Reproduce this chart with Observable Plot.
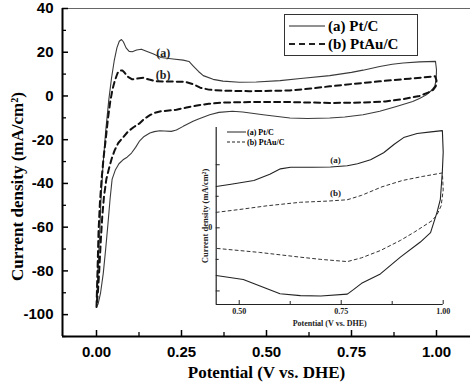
<!DOCTYPE html>
<html><head><meta charset="utf-8">
<script src="https://cdn.jsdelivr.net/npm/d3@7"></script>
<script src="https://cdn.jsdelivr.net/npm/@observablehq/plot@0.6"></script>
<style>
body{margin:0;background:#fff;}
#wrap{position:relative;width:474px;height:386px;overflow:hidden;}
#wrap > svg{position:absolute;}
.leg{position:absolute;box-sizing:border-box;color:#000;}
.leg .row{display:flex;align-items:center;white-space:nowrap;}
#wrap .leg svg{position:static;display:block;}
</style></head><body><div id="wrap"></div>
<script>
// ---- main chart data (Potential V vs DHE, current density mA/cm2) ----
const seriesNames = ["(a) Pt/C", "(b) PtAu/C"];
const curveTags = ["(a)", "(b)"];

const ptcX = [0,0.004,0.009,0.013,0.019,0.027,0.036,0.044,0.052,0.06,0.067,0.0735,0.079,0.087,0.096,0.105,0.118,0.132,0.145,0.166,0.19,0.225,0.255,0.272,0.284,0.30,0.314,0.343,0.372,0.42,0.47,0.54,0.60,0.686,0.75,0.784,0.833,0.87,0.902,0.95,0.997,
  1.0,0.999,0.995,0.985,0.97,0.95,0.93,0.882,0.833,0.784,0.73,0.686,0.62,0.569,0.49,0.43,0.40,0.36,0.333,0.30,0.284,0.255,0.235,0.22,0.20,0.186,0.17,0.157,0.14,0.127,0.115,0.103,0.09,0.078,0.066,0.055,0.046,0.04,0.034,0.027,0.02,0.012,0.005,0];
const ptcY = [-96.5,-80,-64,-48,-32,-16,-2,8,16,22,25,25.8,24.8,22,20.4,20.2,21,21.4,20.6,19.3,17.6,16.9,16.4,15.8,13.8,11.2,9.3,7.6,6.8,6.3,6.4,7.0,8.0,9.3,10.8,11.8,13.5,14.5,15.1,15.6,15.8,
  12,7.5,4.5,2.5,0.5,-1.2,-2.5,-4.8,-7.0,-8.6,-9.6,-10.1,-10.3,-10.1,-8.6,-7.3,-7.0,-7.5,-8.6,-10.5,-11.6,-13.9,-15.6,-16.2,-16.0,-15.9,-16.3,-16.9,-18.5,-20.5,-23.5,-26.1,-28,-29.2,-31,-34,-38,-47,-58,-70,-81,-90,-95,-96.5];

const ptauX = [0,0.003,0.006,0.01,0.015,0.021,0.027,0.034,0.04,0.047,0.054,0.062,0.069,0.076,0.083,0.092,0.105,0.12,0.138,0.155,0.176,0.216,0.26,0.285,0.305,0.33,0.372,0.45,0.569,0.63,0.686,0.76,0.833,0.921,0.996,
  1.0,0.998,0.99,0.975,0.95,0.9,0.85,0.78,0.686,0.569,0.45,0.372,0.33,0.30,0.265,0.235,0.19,0.17,0.157,0.14,0.127,0.11,0.093,0.075,0.064,0.053,0.045,0.037,0.029,0.022,0.017,0.013,0.008,0.004,0];
const ptauY = [-96.5,-80,-62,-49,-38,-28,-20,-10,-3,3,7,10.5,11.6,11.7,10.6,8.8,7.6,8.0,8.3,7.5,6.7,6.6,6.5,5.3,3.8,2.9,2.4,2.2,2.5,3.4,4.4,5.6,6.7,7.9,9.0,
  7,4.5,2.8,1.5,0,-1.5,-2.5,-3.0,-3.2,-2.8,-2.8,-3.0,-3.6,-4.2,-5.3,-6.3,-7.0,-7.8,-8.8,-10.5,-12.5,-14.2,-16.2,-19.5,-21.5,-25,-28.5,-33,-38,-46,-55,-65,-80,-90,-96.5];

const xTicks = [0, 0.25, 0.5, 0.75, 1.0];
const xMinorTicks = [0.125, 0.375, 0.625, 0.875];
const yTicks = [-100, -80, -60, -40, -20, 0, 20, 40];
const yMinorTicks = [-110, -90, -70, -50, -30, -10, 10, 30];

// ---- inset data (zoom 0.44–1.00 V, arbitrary current units) ----
const insetPtcX = [0.4436,0.48,0.536,0.575,0.601,0.626,0.68,0.724,0.765,0.79,0.822,0.854,0.88,0.903,0.936,0.97,0.998,
  1.0,0.998,0.993,0.985,0.969,0.944,0.895,0.846,0.80,0.78,0.765,0.70,0.65,0.60,0.57,0.51,0.4436];
const insetPtcY = [13.1,13.8,15.0,17.0,18.7,19.2,19.2,19.3,19.7,20.3,21.6,23.8,26.5,28.6,29.9,30.4,30.8,
  24,18,9,5,-1.5,-4.5,-9.3,-14.6,-17.6,-19.6,-21.0,-21.6,-21.5,-20.9,-19.4,-16.4,-15.1];
const insetPtauX = [0.4436,0.5,0.569,0.65,0.72,0.765,0.80,0.85,0.90,0.95,0.998,
  1.0,0.995,0.985,0.973,0.93,0.895,0.846,0.80,0.765,0.70,0.65,0.55,0.4436];
const insetPtauY = [4.9,5.8,7.0,8.1,8.5,8.9,10.3,13.0,15.0,16.3,17.4,
  12,7,4.2,2.3,-1.3,-4.0,-7.2,-9.5,-10.7,-10.0,-9.3,-7.8,-6.5];
const insetXTicks = [0.5, 0.75, 1.0];
const insetXMinor = [0.625, 0.875];
const insetYTicks = [-20, 0, 20];
const insetYLabeled = [0];
const insetYMinor = [-10, 10];

const xTitle = "Potential (V vs. DHE)";
const yTitle = "Current density (mA/cm²)";

// ---- build ----
const toRows = (xs, ys) => xs.map((x, i) => ({x, y: ys[i]}));
const ptc = toRows(ptcX, ptcY), ptau = toRows(ptauX, ptauY);
const iPtc = toRows(insetPtcX, insetPtcY), iPtau = toRows(insetPtauX, insetPtauY);

const serif = "'Liberation Serif','Times New Roman',serif";
const sans = "'Liberation Sans',Arial,sans-serif";
const fmt2 = d3.format(".2f");

const W = 474, H = 386, mL = 62, mR = 4, mT = 8, mB = 50;
const fw = W - mL - mR, fh = H - mT - mB;

const main = Plot.plot({
  width: W, height: H, marginLeft: mL, marginRight: mR, marginTop: mT, marginBottom: mB,
  x: {domain: [-0.1, 1.1]},
  y: {domain: [-110, 40]},
  style: {background: "transparent", overflow: "visible"},
  marks: [
    Plot.ruleY([40], {stroke: "#666", strokeWidth: 1}),
    Plot.tickX(xTicks, {x: d => d, insetTop: fh - 6, stroke: "#000", strokeWidth: 1.5}),
    Plot.tickX(xMinorTicks, {x: d => d, insetTop: fh - 4, stroke: "#000", strokeWidth: 1.3}),
    Plot.tickY(yTicks, {y: d => d, insetRight: fw - 6, stroke: "#000", strokeWidth: 1.5}),
    Plot.tickY(yMinorTicks, {y: d => d, insetRight: fw - 4, stroke: "#000", strokeWidth: 1.3}),
    Plot.ruleX([-0.1], {stroke: "#000", strokeWidth: 2}),
    Plot.ruleY([-110], {stroke: "#000", strokeWidth: 2}),
    Plot.axisX(xTicks, {tickSize: 0, tickPadding: 10, tickFormat: fmt2, fontSize: 15, fontWeight: "bold", fontFamily: sans, fill: "#000", label: null}),
    Plot.axisY(yTicks, {tickSize: 0, tickPadding: 9, tickFormat: d => String(d), fontSize: 15, fontWeight: "bold", fontFamily: sans, fill: "#000", label: null}),
    Plot.line(ptc, {x: "x", y: "y", stroke: "#3a3a3a", strokeWidth: 1.1}),
    Plot.line(ptau, {x: "x", y: "y", stroke: "#111", strokeWidth: 2, strokeDasharray: "6,4"}),
    Plot.text(curveTags, {x: [0.196, 0.196], y: [19.4, 9.7], text: d => d, fontSize: 12, fontWeight: "bold", fontFamily: serif, fill: "#222"}),
    Plot.text([xTitle], {frameAnchor: "bottom", dy: 36, lineAnchor: "middle", textAnchor: "middle", text: d => d, fontSize: 17, fontWeight: "bold", fontFamily: serif, fill: "#000"}),
    Plot.text([yTitle], {frameAnchor: "left", dx: -45, dy: 14, rotate: -90, textAnchor: "middle", lineAnchor: "middle", text: d => d, fontSize: 17, fontWeight: "bold", fontFamily: serif, fill: "#000"})
  ]
});

const iW = 260, iH = 220, imL = 25.7, imR = 7.3, imT = 12, imB = 31;
const ifw = iW - imL - imR, ifh = iH - imT - imB;
const inset = Plot.plot({
  width: iW, height: iH, marginLeft: imL, marginRight: imR, marginTop: imT, marginBottom: imB,
  x: {domain: [0.4436, 1.0]},
  y: {domain: [-24.3, 31.8]},
  style: {background: "transparent", overflow: "visible"},
  marks: [
    Plot.tickX(insetXTicks, {x: d => d, insetTop: ifh - 4, stroke: "#222", strokeWidth: 1}),
    Plot.tickX(insetXMinor, {x: d => d, insetTop: ifh - 3, stroke: "#222", strokeWidth: 1}),
    Plot.tickY(insetYTicks, {y: d => d, insetRight: ifw - 4, stroke: "#222", strokeWidth: 1}),
    Plot.tickY(insetYMinor, {y: d => d, insetRight: ifw - 3, stroke: "#222", strokeWidth: 1}),
    Plot.ruleX([0.4436], {stroke: "#222", strokeWidth: 1.2}),
    Plot.ruleY([-24.3], {stroke: "#222", strokeWidth: 1.2}),
    Plot.axisX(insetXTicks, {tickSize: 0, tickPadding: 4, tickFormat: fmt2, fontSize: 8, fontWeight: "bold", fontFamily: serif, fill: "#222", label: null}),
    Plot.axisY(insetYLabeled, {tickSize: 0, tickPadding: 4, tickFormat: d => String(d), fontSize: 8, fontWeight: "bold", fontFamily: serif, fill: "#222", label: null}),
    Plot.line(iPtc, {x: "x", y: "y", stroke: "#222", strokeWidth: 1.1}),
    Plot.line(iPtau, {x: "x", y: "y", stroke: "#333", strokeWidth: 1, strokeDasharray: "3,3"}),
    Plot.text(curveTags, {x: [0.736, 0.736], y: [21.4, 10.9], text: d => d, fontSize: 9, fontWeight: "bold", fontFamily: serif, fill: "#222"}),
    Plot.text([xTitle], {frameAnchor: "bottom", dy: 19, lineAnchor: "middle", textAnchor: "middle", text: d => d, fontSize: 8, fontWeight: "bold", fontFamily: serif, fill: "#222"}),
    Plot.text([yTitle], {frameAnchor: "left", dx: -11, rotate: -90, textAnchor: "middle", lineAnchor: "middle", text: d => d, fontSize: 8.5, fontWeight: "bold", fontFamily: serif, fill: "#222"})
  ]
});

const wrap = document.getElementById("wrap");
main.style.left = "0px"; main.style.top = "0px";
wrap.appendChild(main);
inset.style.left = "190px"; inset.style.top = "115px";
wrap.appendChild(inset);

function legend(left, top, w, h, fontSize, lineW, dashes, strokeWs, border, rowH, gap) {
  const d = document.createElement("div");
  d.className = "leg";
  Object.assign(d.style, {left: left + "px", top: top + "px", width: w ? w + "px" : "auto", height: h ? h + "px" : "auto",
    border: border ? "1px solid #333" : "none", fontFamily: serif, fontWeight: "bold", fontSize: fontSize + "px", padding: border ? "2px 4px" : "0"});
  seriesNames.forEach((name, i) => {
    const r = document.createElement("div");
    r.className = "row"; r.style.height = rowH + "px";
    const ns = "http://www.w3.org/2000/svg";
    const s = document.createElementNS(ns, "svg");
    s.setAttribute("width", lineW); s.setAttribute("height", 8);
    const l = document.createElementNS(ns, "line");
    l.setAttribute("x1", 0); l.setAttribute("x2", lineW); l.setAttribute("y1", 4); l.setAttribute("y2", 4);
    l.setAttribute("stroke", "#222"); l.setAttribute("stroke-width", strokeWs[i]);
    if (dashes[i]) l.setAttribute("stroke-dasharray", dashes[i]);
    s.appendChild(l); r.appendChild(s);
    const t = document.createElement("span"); t.textContent = name; t.style.marginLeft = gap + "px";
    r.appendChild(t); d.appendChild(r);
  });
  wrap.appendChild(d);
}
legend(284, 14, 134, 42, 15, 36, [null, "6,4"], [1, 2], true, 18, 3);
legend(227, 127, null, null, 8, 19, [null, "3,2"], [1, 1], false, 10, 1);
</script></body></html>
